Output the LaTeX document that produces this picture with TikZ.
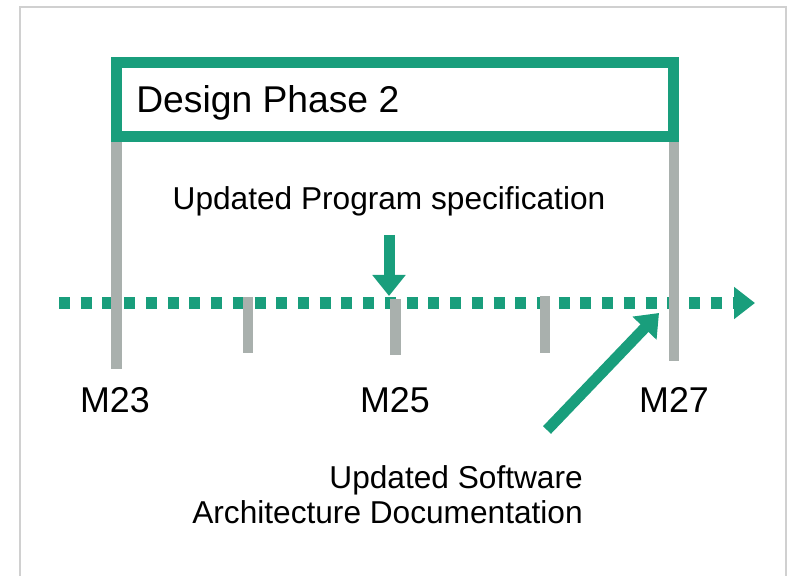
\documentclass[tikz,border=0pt]{standalone}
\usepackage{fontspec}
\setmainfont{Liberation Sans}
\usetikzlibrary{arrows.meta, positioning}
\definecolor{phasegreen}{RGB}{25,158,124}
\definecolor{tickgray}{RGB}{169,176,173}
\definecolor{framegray}{RGB}{208,208,208}

\begin{document}
\begin{tikzpicture}[x=0.025cm, y=-0.025cm,
      phasebox/.style={draw=phasegreen, line width=0.275cm, minimum width=13.925cm, minimum height=1.85cm, inner sep=0pt},
      titletext/.style={font=\fontsize{26.5}{31}\selectfont, inner sep=0pt},
      timetext/.style={font=\fontsize{22.5}{24.8}\selectfont, inner sep=0pt},
      mstext/.style={font=\fontsize{25.5}{30}\selectfont, inner sep=0pt},
      tickline/.style={draw=tickgray, line width=0.265cm},
      timeline/.style={draw=phasegreen, line width=0.275cm, dash pattern=on 0.275cm off 0.268cm, -{Triangle[length=0.525cm, width=0.775cm]}},
      pointer/.style={draw=phasegreen, line width=0.275cm, -{Triangle[length=0.525cm, width=0.8cm]}}
    ]
      \useasboundingbox (0,0) rectangle (788,576);

      % Frame, open at the bottom
      \draw[framegray, line width=0.05cm] (20,576) -- (20,7) -- (786,7) -- (786,576);

      % Milestones on the time line
      \coordinate (m23) at (116.5,303);
      \coordinate (m24) at (248,303);
      \coordinate (m25) at (395.5,303);
      \coordinate (m26) at (545,303);
      \coordinate (m27) at (674,303);

      % Design phase box and its title
      \node[phasebox] (phase) at (395,99.5) {};
      \node[titletext, anchor=base west] (phasetitle) at (136,113) {Design Phase 2};

      % Dotted time line
      \coordinate (tstart) at (59,303);
      \coordinate (tend) at (755,303);
      \draw[timeline] (tstart) -- (tend);

      % Ticks - long ones hang from the phase box
      \draw[tickline] (m23 |- phase.south) -- ([yshift=-1.65cm]m23);
      \draw[tickline] (m27 |- phase.south) -- ([yshift=-1.45cm]m27);
      \draw[tickline] ([yshift=0.15cm]m24) -- ([yshift=-1.25cm]m24);
      \draw[tickline] ([yshift=0.1cm]m25) -- ([yshift=-1.3cm]m25);
      \draw[tickline] ([yshift=0.17cm]m26) -- ([yshift=-1.25cm]m26);

      % Milestone labels
      \node[mstext, anchor=base] (lm23) at (115,412) {M23};
      \node[mstext, anchor=base] (lm25) at (395,412) {M25};
      \node[mstext, anchor=base] (lm27) at (674,412) {M27};

      % Program specification arrow
      \node[timetext, anchor=base] (spec) at (389,210) {Updated Program specification};
      \coordinate (spectail) at (389,235);
      \coordinate (spectip) at (389,296);
      \draw[pointer] (spectail) -- (spectip);

      % Architecture documentation arrow
      \node[timetext, align=right, anchor=north east] (arch) at (583,465) {Updated Software\\Architecture Documentation};
      \coordinate (archtail) at (547,430);
      \coordinate (archtip) at (659,313);
      \draw[pointer] (archtail) -- (archtip);

    \end{tikzpicture}
\end{document}
